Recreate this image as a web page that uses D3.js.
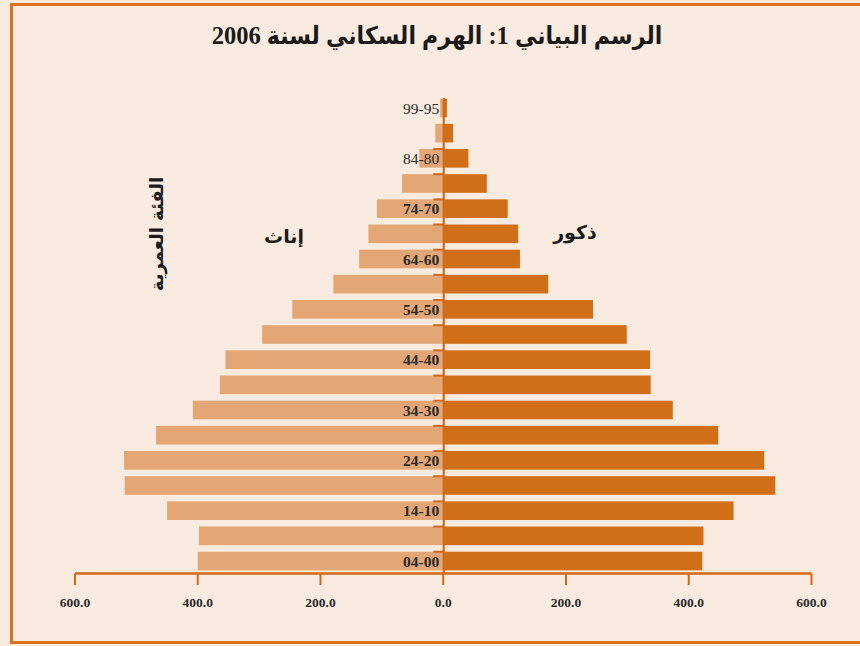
<!DOCTYPE html>
<html><head><meta charset="utf-8">
<script src="https://cdn.jsdelivr.net/npm/d3@7"></script>
<style>
html,body{margin:0;padding:0;background:#FAEBDF;}
svg{display:block;}
</style></head>
<body>
<svg id="c" width="860" height="646"></svg>
<script>
// Data (bottom to top)
const ageGroups = ["04-00","09-05","14-10","19-15","24-20","29-25","34-30","39-35","44-40","49-45","54-50","59-55","64-60","69-65","74-70","79-75","84-80","94-85","99-95"];
const females = [400, 398, 450, 519, 520, 468, 408, 364, 355, 295, 246, 179, 137, 122, 108, 67, 39, 13, 5];
const males   = [422, 424, 473, 541, 523, 448, 374, 338, 337, 299, 244, 171, 125, 122, 105, 71, 41, 16, 6];
const tickValues = [-600, -400, -200, 0, 200, 400, 600];
const title = "الرسم البياني 1: الهرم السكاني لسنة 2006";
const femaleLabel = "إناث";
const maleLabel = "ذكور";
const yLabel = "الفئة العمرية";

const svg = d3.select("#c");
const orange = "#D2691A";
const femColor = "#E4A674";
const maleColor = "#D16F19";

svg.append("rect").attr("x",0).attr("y",0).attr("width",860).attr("height",646).attr("fill","#FAEBDF");
// frame
svg.append("rect").attr("x",11.5).attr("y",4.5).attr("width",900).attr("height",638)
  .attr("fill","#F9EBDF").attr("stroke","#D9731F").attr("stroke-width",3);

const x = d3.scaleLinear().domain([-600,600]).range([75,811.5]);
const y = d3.scaleBand().domain(ageGroups.slice().reverse()).range([95.4,573.6])
  .paddingInner(0.26).paddingOuter(0.13);

const rows = ageGroups.map((a,i)=>({age:a,f:females[i],m:males[i],i}));

// female bars
svg.append("g").selectAll("rect").data(rows).join("rect")
  .attr("x",d=>x(-d.f)).attr("y",d=>y(d.age))
  .attr("width",d=>x(0)-x(-d.f)).attr("height",y.bandwidth())
  .attr("fill",femColor);
// male bars
svg.append("g").selectAll("rect").data(rows).join("rect")
  .attr("x",x(0)).attr("y",d=>y(d.age))
  .attr("width",d=>x(d.m)-x(0)).attr("height",y.bandwidth())
  .attr("fill",maleColor);

// center axis line
svg.append("line").attr("x1",x(0)+0.5).attr("x2",x(0)+0.5).attr("y1",98).attr("y2",573)
  .attr("stroke",orange).attr("stroke-width",2.2);
// center ticks
svg.append("g").selectAll("line").data(rows.filter(d=>d.i<17)).join("line")
  .attr("x1",x(0)-10).attr("x2",x(0)).attr("y1",d=>y(d.age)).attr("y2",d=>y(d.age))
  .attr("stroke",orange).attr("stroke-width",2);

// age labels
svg.append("g").selectAll("text").data(rows.filter(d=>d.i%2===0)).join("text")
  .attr("x",x(0)-4).attr("y",d=>y(d.age)+y.bandwidth()/2)
  .attr("dy","0.36em").attr("text-anchor","end")
  .attr("font-family","'Liberation Serif', serif").attr("font-size",15.5)
  .attr("font-weight",d=>(d.i>=16?"normal":"bold")).attr("fill","#2a2a2a")
  .text(d=>d.age);

// bottom axis
const axisY = 573.5;
svg.append("line").attr("x1",x(-600)).attr("x2",x(600)).attr("y1",axisY).attr("y2",axisY)
  .attr("stroke",orange).attr("stroke-width",2.5);
svg.append("g").selectAll("line").data(tickValues).join("line")
  .attr("x1",d=>x(d)).attr("x2",d=>x(d)).attr("y1",axisY).attr("y2",585)
  .attr("stroke",orange).attr("stroke-width",2);
svg.append("g").selectAll("text").data(tickValues).join("text")
  .attr("x",d=>x(d)).attr("y",607).attr("text-anchor","middle")
  .attr("font-family","'Liberation Serif', serif").attr("font-size",13.5).attr("font-weight","bold")
  .attr("fill","#2a2a2a")
  .text(d=>d3.format(".1f")(Math.abs(d)));

// title
svg.append("text").attr("x",437).attr("y",44).attr("text-anchor","middle")
  .attr("direction","rtl")
  .attr("font-family","'Liberation Serif','DejaVu Sans Condensed','DejaVu Sans', serif").attr("font-size",24.5).attr("font-weight","bold")
  .attr("fill","#1a1a1a").text(title);

// side labels
svg.append("text").attr("x",284).attr("y",243).attr("text-anchor","middle").attr("direction","rtl")
  .attr("font-family","'DejaVu Sans', sans-serif").attr("font-size",19).attr("font-weight","bold")
  .attr("fill","#1a1a1a").text(femaleLabel);
svg.append("text").attr("x",575).attr("y",239).attr("text-anchor","middle").attr("direction","rtl")
  .attr("font-family","'DejaVu Sans', sans-serif").attr("font-size",19).attr("font-weight","bold")
  .attr("fill","#1a1a1a").text(maleLabel);
svg.append("text").attr("transform","translate(163,234) rotate(-90)").attr("text-anchor","middle").attr("direction","rtl")
  .attr("font-family","'DejaVu Sans', sans-serif").attr("font-size",18).attr("font-weight","bold")
  .attr("fill","#1a1a1a").text(yLabel);
</script>
</body></html>
